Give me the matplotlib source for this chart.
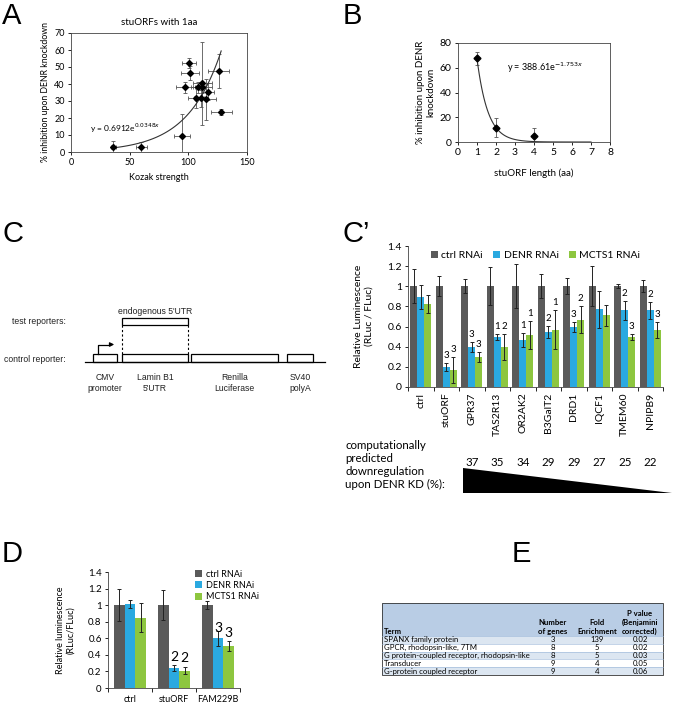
import numpy as np
import matplotlib.pyplot as plt
from matplotlib.patches import Rectangle, Polygon
from matplotlib.ticker import FuncFormatter

W, H = 675, 707
XL_FONT = 'Lato'
ARIAL = 'Liberation Sans'
GRAY = '#5a5a5a'
BLUE = '#2aa9e0'
GREEN = '#8dc63f'

# ---- panel A: stuORFs with 1aa ----
kozak = [36, 60, 94.5, 100.5, 101.5, 97.5, 108, 106.5, 112, 112, 111, 115, 117, 126, 128]
kozak_err = [2, 5, 7, 6, 8, 8, 6, 7, 8, 8, 6, 9, 5, 9, 9]
inhib_a = [2.7, 2.7, 9.5, 52.5, 46.5, 38, 38, 32, 40.5, 38, 31.5, 31, 35.5, 47.5, 23.5]
inhib_a_err = [3.5, 3, 13, 3, 4, 3, 3, 6, 24.5, 3, 5, 12, 5, 10, 2]
fit_a = (0.6912, 0.0348)

# ---- panel B: stuORF length ----
orf_len = [1, 2, 4]
inhib_b = [67.5, 11.5, 5]
inhib_b_err = [5.5, 7.5, 6]
fit_b = (388.61, -1.753)

# ---- panel C': reporters ----
genes = ['ctrl', 'stuORF', 'GPR37', 'TAS2R13', 'OR2AK2', 'B3GalT2', 'DRD1', 'IQCF1', 'TMEM60', 'NPIPB9']
ctrl_v = [1, 1, 1, 1, 1, 1, 1, 1, 1, 1]
ctrl_e = [0.17, 0.1, 0.07, 0.19, 0.22, 0.12, 0.08, 0.2, 0.02, 0.06]
denr_v = [0.89, 0.2, 0.4, 0.5, 0.47, 0.55, 0.6, 0.77, 0.76, 0.76]
denr_e = [0.12, 0.04, 0.05, 0.03, 0.07, 0.06, 0.05, 0.18, 0.09, 0.08]
mcts_v = [0.82, 0.17, 0.3, 0.4, 0.52, 0.57, 0.67, 0.71, 0.5, 0.57]
mcts_e = [0.09, 0.13, 0.05, 0.13, 0.14, 0.19, 0.13, 0.1, 0.03, 0.08]
denr_lab = ['', '3', '3', '1', '1', '2', '3', '', '2', '2']
mcts_lab = ['', '3', '3', '2', '1', '1', '2', '', '3', '3']
predicted = [37, 35, 34, 29, 29, 27, 25, 22]

# ---- panel D ----
d_groups = ['ctrl', 'stuORF', 'FAM229B']
d_ctrl = [1, 1, 1]
d_ctrl_e = [0.19, 0.18, 0.05]
d_denr = [1.01, 0.24, 0.6]
d_denr_e = [0.05, 0.04, 0.09]
d_mcts = [0.85, 0.21, 0.51]
d_mcts_e = [0.17, 0.04, 0.06]
d_denr_lab = ['', '2', '3']
d_mcts_lab = ['', '2', '3']

# ---- panel E: enrichment table ----
terms = ['SPANX family protein', 'GPCR, rhodopsin-like, 7TM',
         'G protein-coupled receptor, rhodopsin-like', 'Transducer',
         'G-protein coupled receptor']
n_genes = [3, 8, 8, 9, 9]
fold = [139, 5, 5, 4, 4]
pvals = ['0.02', '0.02', '0.03', '0.05', '0.06']


def box(l, t, r, b):
    return [l / W, 1 - b / H, (r - l) / W, (b - t) / H]


def xl_ticks(ax, size):
    ax.tick_params(direction='out', length=2.5, width=0.6, labelsize=size, pad=2)
    for s in ax.spines.values():
        s.set_linewidth(0.6)
        s.set_color('#444444')
    for lab in ax.get_xticklabels() + ax.get_yticklabels():
        lab.set_family(XL_FONT)


fig = plt.figure(figsize=(W / 100, H / 100), dpi=100)

ov = fig.add_axes([0, 0, 1, 1])
ov.set_xlim(0, W)
ov.set_ylim(H, 0)
ov.axis('off')
ov.patch.set_visible(False)

for letter, x, y in [('A', 2, 2), ('B', 343, 2), ('C', 2, 220), ("C\u2019", 343, 220), ('D', 2, 540), ('E', 512, 540)]:
    ov.text(x, y, letter, fontsize=21, family=ARIAL, va='top', ha='left')

# ---------- A ----------
ax = fig.add_axes(box(71, 33, 247, 152))
ax.errorbar(kozak, inhib_a, xerr=kozak_err, yerr=inhib_a_err, fmt='D', color='black',
            ms=3, ecolor='#555555', elinewidth=0.6, capsize=1.2, capthick=0.6)
xs = np.linspace(35, 128, 100)
ax.plot(xs, fit_a[0] * np.exp(fit_a[1] * xs), color='#333333', lw=0.8)
ax.text(16, 12, r'y = 0.6912e$^{0.0348x}$', fontsize=6, family=XL_FONT)
ax.set_xlim(0, 150)
ax.set_ylim(0, 70)
ax.set_xticks([0, 50, 100, 150])
ax.set_yticks(range(0, 71, 10))
ax.set_title('stuORFs with 1aa', fontsize=7, family=XL_FONT, pad=6)
ax.set_xlabel('Kozak strength', fontsize=6.5, family=XL_FONT, labelpad=4)
ax.set_ylabel('% inhibition upon DENR knockdown', fontsize=6.3, family=XL_FONT, labelpad=3)
xl_ticks(ax, 6.5)

# ---------- B ----------
ax = fig.add_axes(box(458, 43, 610, 142))
ax.errorbar(orf_len, inhib_b, yerr=inhib_b_err, fmt='D', color='black', ms=3.5,
            ecolor='#555555', elinewidth=0.6, capsize=1.5, capthick=0.6)
xs = np.linspace(1, 7, 100)
ax.plot(xs, fit_b[0] * np.exp(fit_b[1] * xs), color='#333333', lw=0.8)
ax.text(2.6, 57, r'y = 388.61e$^{-1.753x}$', fontsize=6.5, family=XL_FONT)
ax.set_xlim(0, 8)
ax.set_ylim(0, 80)
ax.set_xticks(range(0, 9))
ax.set_yticks(range(0, 81, 20))
ax.set_xlabel('stuORF length (aa)', fontsize=7, family=XL_FONT, labelpad=8)
ax.set_ylabel('% inhibition upon DENR\nknockdown', fontsize=7, family=XL_FONT, labelpad=3)
xl_ticks(ax, 7.5)

# ---------- C: reporter diagram ----------
fd = dict(fontsize=6.2, family=ARIAL, color='#222222')
ov.text(66, 322, 'test reporters:', ha='right', va='center', **fd)
ov.text(66, 359, 'control reporter:', ha='right', va='center', **fd)
ov.text(155, 312, "endogenous 5'UTR", ha='center', va='center', **fd)
ov.add_patch(Rectangle((122, 318), 66, 7, fill=False, lw=0.9, ec='black'))
ov.plot([122, 122], [325, 354], ls=(0, (2, 2)), color='black', lw=0.8)
ov.plot([188, 188], [325, 354], ls=(0, (2, 2)), color='black', lw=0.8)
ov.plot([85, 325], [362, 362], color='black', lw=0.9)
for (l, r), name in zip([(93, 117), (122, 188), (191, 278), (287, 313)],
                        ['CMV\npromoter', "Lamin B1\n5'UTR", 'Renilla\nLuciferase', 'SV40\npolyA']):
    ov.add_patch(Rectangle((l, 354), r - l, 8, fill=False, lw=0.9, ec='black'))
    ov.text((l + r) / 2, 373, name, ha='center', va='top', linespacing=1.3, **fd)
ov.plot([98, 98, 110], [354, 344.5, 344.5], color='black', lw=0.9)
ov.annotate('', xy=(117, 344.5), xytext=(108, 344.5),
            arrowprops=dict(arrowstyle='-|>', color='black', lw=0.9, mutation_scale=6))

# ---------- C': bars ----------
ax = fig.add_axes(box(408, 246, 663, 387))
x = np.arange(len(genes))
w = 0.275
ekw = dict(elinewidth=0.7, capthick=0.7, ecolor='#222222')
ax.bar(x - w, ctrl_v, w, yerr=ctrl_e, capsize=1.5, color=GRAY, error_kw=ekw, label='ctrl RNAi')
ax.bar(x, denr_v, w, yerr=denr_e, capsize=1.5, color=BLUE, error_kw=ekw, label='DENR RNAi')
ax.bar(x + w, mcts_v, w, yerr=mcts_e, capsize=1.5, color=GREEN, error_kw=ekw, label='MCTS1 RNAi')
for i in range(len(genes)):
    ax.text(x[i], denr_v[i] + denr_e[i] + 0.03, denr_lab[i], ha='center', va='bottom',
            fontsize=7, family=XL_FONT)
    ax.text(x[i] + w, mcts_v[i] + mcts_e[i] + 0.03, mcts_lab[i], ha='center', va='bottom',
            fontsize=7, family=XL_FONT)
ax.set_xlim(-0.5, len(genes) - 0.5)
ax.set_ylim(0, 1.4)
ax.set_yticks(np.arange(0, 1.41, 0.2))
ax.yaxis.set_major_formatter(FuncFormatter(lambda v, p: f'{v:.1f}'.rstrip('0').rstrip('.') if v else '0'))
ax.set_xticks(x)
ax.set_xticklabels(genes, rotation=90)
ax.set_xticks(np.arange(-0.5, len(genes), 1), minor=True)
ax.spines['top'].set_visible(False)
ax.spines['right'].set_visible(False)
ax.set_ylabel('Relative Luminescence\n(RLuc / FLuc)', fontsize=7.5, family=XL_FONT)
ax.yaxis.set_label_coords(-0.135, 0.5)
xl_ticks(ax, 7.5)
ax.tick_params(axis='x', which='major', length=0, pad=4)
ax.tick_params(axis='x', which='minor', length=3, width=0.6, direction='out')
leg = ax.legend(loc='upper center', bbox_to_anchor=(0.5, 1.03), ncol=3, frameon=False,
                prop=dict(family=XL_FONT, size=7.5), handlelength=0.7, handleheight=0.7,
                handletextpad=0.3, columnspacing=1.0)

ov.text(345, 465, 'computationally\npredicted\ndownregulation\nupon DENR KD (%):',
        ha='left', va='center', fontsize=8.3, family=XL_FONT, linespacing=1.25)
xb = ax.transData
for i, val in enumerate(predicted):
    px_x = fig.transFigure.inverted().transform(xb.transform((i + 2, 0)))[0] * W
    ov.text(px_x, 463, str(val), ha='center', va='center', fontsize=8.3, family=XL_FONT)
ov.add_patch(Polygon([(463, 468), (463, 493), (672, 493)], closed=True, color='black', lw=0))

# ---------- D ----------
ax = fig.add_axes(box(108, 572, 240, 688))
x = np.arange(len(d_groups))
w = 0.24
ax.bar(x - w, d_ctrl, w, yerr=d_ctrl_e, capsize=1.5, color=GRAY, error_kw=ekw, label='ctrl RNAi')
ax.bar(x, d_denr, w, yerr=d_denr_e, capsize=1.5, color=BLUE, error_kw=ekw, label='DENR RNAi')
ax.bar(x + w, d_mcts, w, yerr=d_mcts_e, capsize=1.5, color=GREEN, error_kw=ekw, label='MCTS1 RNAi')
for i in range(len(d_groups)):
    ax.text(x[i], d_denr[i] + 0.13, d_denr_lab[i], ha='center', va='center', fontsize=10, family=XL_FONT)
    ax.text(x[i] + w, d_mcts[i] + 0.15, d_mcts_lab[i], ha='center', va='center', fontsize=10, family=XL_FONT)
ax.set_xlim(-0.5, len(d_groups) - 0.5)
ax.set_ylim(0, 1.4)
ax.set_yticks(np.arange(0, 1.41, 0.2))
ax.yaxis.set_major_formatter(FuncFormatter(lambda v, p: f'{v:.1f}'.rstrip('0').rstrip('.') if v else '0'))
ax.set_xticks(x)
ax.set_xticklabels(d_groups)
ax.set_xticks(np.arange(-0.5, len(d_groups), 1), minor=True)
ax.spines['top'].set_visible(False)
ax.spines['right'].set_visible(False)
ax.set_ylabel('Relative luminescence\n(RLuc/FLuc)', fontsize=6.5, family=XL_FONT)
ax.yaxis.set_label_coords(-0.25, 0.5)
xl_ticks(ax, 7)
ax.tick_params(axis='x', which='major', length=0, pad=5, labelsize=6.5)
ax.tick_params(axis='x', which='minor', length=3, width=0.6, direction='out')
ax.legend(loc='upper left', bbox_to_anchor=(0.63, 1.05), frameon=False,
          prop=dict(family=XL_FONT, size=6.5), handlelength=0.8, handleheight=0.8,
          handletextpad=0.4, labelspacing=0.25, borderaxespad=0)

# ---------- E: table ----------
t_left, t_right, t_top, head_bot, row_h = 382, 663, 603, 636, 7.8
col_c = [553, 597, 640]
ov.add_patch(Rectangle((t_left, t_top), t_right - t_left, head_bot - t_top, fc='#b9cde5', ec='none'))
for r in range(len(terms)):
    y0 = head_bot + r * row_h
    fc = '#dce6f1' if r % 2 == 0 else 'white'
    ov.add_patch(Rectangle((t_left, y0), t_right - t_left, row_h, fc=fc, ec='none'))
    ov.plot([t_left, t_right], [y0, y0], color='#95b3d7', lw=0.4)
    tf = dict(fontsize=5.6, family=XL_FONT, va='center')
    ov.text(t_left + 2, y0 + row_h / 2, terms[r], ha='left', **tf)
    ov.text(col_c[0], y0 + row_h / 2, str(n_genes[r]), ha='center', **tf)
    ov.text(col_c[1], y0 + row_h / 2, str(fold[r]), ha='center', **tf)
    ov.text(col_c[2], y0 + row_h / 2, pvals[r], ha='center', **tf)
t_bot = head_bot + len(terms) * row_h
ov.add_patch(Rectangle((t_left, t_top), t_right - t_left, t_bot - t_top, fill=False, ec='#333333', lw=0.6))
hf = dict(fontsize=5.6, family=XL_FONT, weight='bold', va='bottom', linespacing=1.3)
ov.text(t_left + 2, head_bot - 1, 'Term', ha='left', **hf)
ov.text(col_c[0], head_bot - 1, 'Number\nof genes', ha='center', **hf)
ov.text(col_c[1], head_bot - 1, 'Fold\nEnrichment', ha='center', **hf)
ov.text(col_c[2], head_bot - 1, 'P value\n(Benjamini\ncorrected)', ha='center', **hf)

fig.savefig('out.png', dpi=100)
